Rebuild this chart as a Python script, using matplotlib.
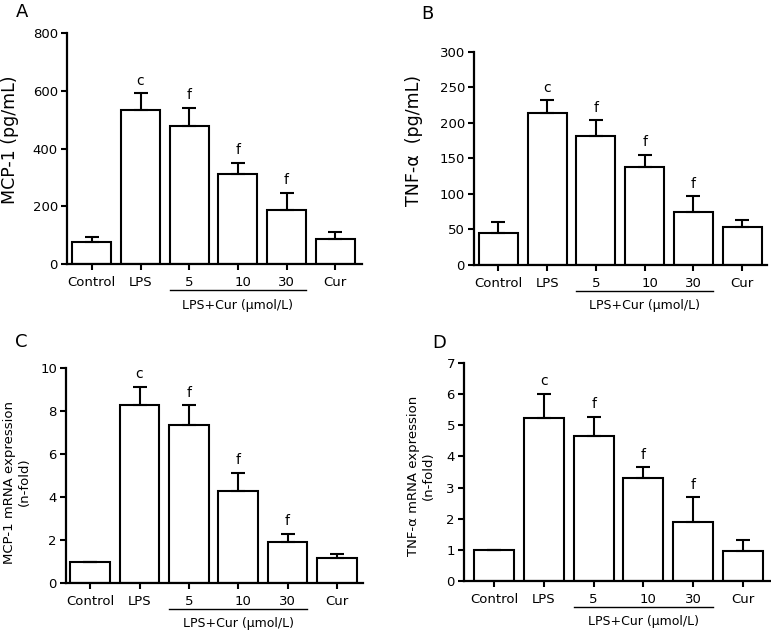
import numpy as np
import matplotlib.pyplot as plt
from matplotlib.transforms import ScaledTranslation

# Data
groups = ['Control', 'LPS', '5', '10', '30', 'Cur']
marks = ['', 'c', 'f', 'f', 'f', '']

mcp1_protein = [75, 535, 479, 312, 186, 87]
mcp1_protein_err = [18, 57, 62, 39, 60, 23]

tnf_protein = [44.5, 214, 182, 137.5, 74, 53]
tnf_protein_err = [16.5, 18, 22, 17.5, 23, 11]

mcp1_mrna = [1.0, 8.26, 7.33, 4.28, 1.89, 1.18]
mcp1_mrna_err = [0, 0.86, 0.93, 0.85, 0.40, 0.18]

tnf_mrna = [1.0, 5.24, 4.66, 3.32, 1.88, 0.96]
tnf_mrna_err = [0, 0.78, 0.62, 0.34, 0.81, 0.37]

W, H = 771, 633
fig = plt.figure(figsize=(W / 100, H / 100), dpi=100)


def px_axes(left, right, top, bottom):
    return fig.add_axes([left / W, 1 - bottom / H, (right - left) / W, (bottom - top) / H])


def panel(ax, means, errs, yticks, xlim):
    x = np.arange(len(groups))
    ax.bar(x, means, width=0.8, color='white', edgecolor='black', linewidth=1.5, zorder=2)
    ax.errorbar(x, means, yerr=[np.zeros(len(errs)), errs], fmt='none', ecolor='black',
                elinewidth=1.5, capsize=5, capthick=1.5, zorder=3)
    tops = np.array(means) + np.array(errs)
    for xi, t, m in zip(x, tops, marks):
        if m:
            ax.annotate(m, (xi, t), xytext=(0, 9), textcoords='offset points',
                        ha='center', va='center', fontsize=10)
    ax.set_xlim(*xlim)
    ax.set_ylim(yticks[0], yticks[-1])
    ax.set_yticks(yticks)
    ax.set_xticks(x)
    ax.set_xticklabels(groups)
    for s in ['top', 'right']:
        ax.spines[s].set_visible(False)
    for s in ['left', 'bottom']:
        ax.spines[s].set_linewidth(1.6)
    ax.tick_params(axis='both', direction='out', length=4.5, width=1.5, labelsize=9.5, pad=2)
    ax.tick_params(axis='x', pad=4)
    # "10" sits a bit right of its tick in the original
    lab = ax.get_xticklabels()[3]
    lab.set_transform(lab.get_transform() + ScaledTranslation(0.05, 0, fig.dpi_scale_trans))
    # group line and label for LPS+Cur
    t1 = ax.get_xaxis_transform() + ScaledTranslation(0, -0.26, fig.dpi_scale_trans)
    ax.plot([1.6, 4.4], [0, 0], transform=t1, color='black', lw=1, clip_on=False)
    t2 = ax.get_xaxis_transform() + ScaledTranslation(0, -0.41, fig.dpi_scale_trans)
    ax.text(3.0, 0, 'LPS+Cur (μmol/L)', transform=t2, ha='center', va='center', fontsize=9)


axA = px_axes(67, 362, 33, 264)
panel(axA, mcp1_protein, mcp1_protein_err, np.arange(0, 801, 200), (-0.51, 5.55))

axB = px_axes(474, 767, 52, 265)
panel(axB, tnf_protein, tnf_protein_err, np.arange(0, 301, 50), (-0.5, 5.51))

axC = px_axes(66, 363, 368, 583)
panel(axC, mcp1_mrna, mcp1_mrna_err, np.arange(0, 11, 2), (-0.49, 5.53))

axD = px_axes(464, 770, 363, 581)
panel(axD, tnf_mrna, tnf_mrna_err, np.arange(0, 8, 1), (-0.61, 5.55))

# y labels
fig.text(10 / W, 1 - 140 / H, 'MCP-1 (pg/mL)', rotation=90, ha='center', va='center', fontsize=12.5)
fig.text(414 / W, 1 - 141 / H, 'TNF-α  (pg/mL)', rotation=90, ha='center', va='center', fontsize=12.5)
fig.text(17 / W, 1 - 482 / H, 'MCP-1 mRNA expression\n(n-fold)', rotation=90, ha='center',
         va='center', fontsize=9.5, linespacing=1.1)
fig.text(421 / W, 1 - 476 / H, 'TNF-α mRNA expression\n(n-fold)', rotation=90, ha='center',
         va='center', fontsize=9.5, linespacing=1.1)

# panel letters
for letter, (px, py) in zip('ABCD', [(22, 12), (427, 14), (21, 342), (439, 343)]):
    fig.text(px / W, 1 - py / H, letter, ha='center', va='center', fontsize=13)

fig.savefig('out.png', dpi=100)
